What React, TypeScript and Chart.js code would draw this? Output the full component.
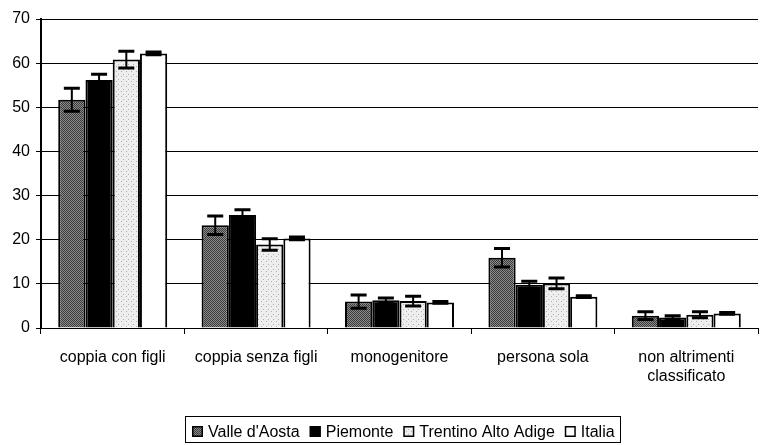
import React, { useEffect, useRef } from "react";
import { Chart, registerables } from "chart.js";

Chart.register(...registerables);

const categories: (string | string[])[] = [
  "coppia con figli",
  "coppia senza figli",
  "monogenitore",
  "persona sola",
  ["non altrimenti", "classificato"],
];

const seriesNames = ["Valle d'Aosta", "Piemonte", "Trentino Alto Adige", "Italia"];

const valleDAosta = [51.7, 23.3, 6.0, 15.9, 2.8];
const piemonte = [56.2, 25.6, 6.3, 9.8, 2.4];
const trentino = [60.8, 18.9, 6.1, 10.1, 3.0];
const italia = [62.2, 20.3, 5.8, 7.1, 3.3];

const errValle = [2.6, 2.1, 1.5, 2.1, 0.9];
const errPiemonte = [1.3, 1.2, 0.5, 0.8, 0.4];
const errTrentino = [1.9, 1.3, 1.1, 1.2, 0.7];
const errItalia = [0.3, 0.3, 0.2, 0.2, 0.2];

const yTicks = { min: 0, max: 70, step: 10 };

const FONT = "'Liberation Sans', Arial, sans-serif";

function makePattern(bg: string, dot: string, size: number, dots: [number, number][]) {
  const c = document.createElement("canvas");
  c.width = size;
  c.height = size;
  const g = c.getContext("2d")!;
  g.fillStyle = bg;
  g.fillRect(0, 0, size, size);
  g.fillStyle = dot;
  dots.forEach(([x, y]) => g.fillRect(x, y, 1, 1));
  const ctx = document.createElement("canvas").getContext("2d")!;
  return ctx.createPattern(c, "repeat")!;
}

const errorBarPlugin = {
  id: "errorBars",
  afterDatasetsDraw(chart: any) {
    const ctx = chart.ctx;
    const yScale = chart.scales.y;
    chart.data.datasets.forEach((ds: any, di: number) => {
      const meta = chart.getDatasetMeta(di);
      if (meta.hidden) return;
      meta.data.forEach((el: any, i: number) => {
        const v = ds.data[i];
        const e = ds.errors[i];
        const x = el.x;
        const yt = yScale.getPixelForValue(v + e);
        const yb = yScale.getPixelForValue(v - e);
        ctx.save();
        ctx.strokeStyle = "#000";
        ctx.lineWidth = 2;
        ctx.beginPath();
        ctx.moveTo(x, yt);
        ctx.lineTo(x, yb);
        ctx.stroke();
        ctx.lineWidth = 3;
        ctx.beginPath();
        ctx.moveTo(x - 8, yt);
        ctx.lineTo(x + 8, yt);
        ctx.moveTo(x - 8, yb);
        ctx.lineTo(x + 8, yb);
        ctx.stroke();
        ctx.restore();
      });
    });
  },
};

// Custom legend drawn under the x axis labels, with a border box
const customLegendPlugin = {
  id: "customLegend",
  afterDraw(chart: any) {
    const ctx = chart.ctx;
    const ca = chart.chartArea;
    const box = 11;
    const gapText = 5;
    const gapItem = 10;
    const baseline = 437;
    ctx.save();
    ctx.font = `16px ${FONT}`;
    ctx.textBaseline = "alphabetic";
    ctx.textAlign = "left";
    const items = chart.data.datasets.map((ds: any) => ({
      label: ds.label,
      fill: ds.backgroundColor,
      w: ctx.measureText(ds.label).width,
    }));
    const total =
      items.reduce((s: number, it: any) => s + box + gapText + it.w, 0) + gapItem * (items.length - 1);
    let x = Math.round((ca.left + ca.right) / 2 + 4 - total / 2);
    const startX = x;
    items.forEach((it: any) => {
      const by = baseline - box;
      ctx.fillStyle = it.fill;
      ctx.fillRect(x, by, box, box);
      ctx.strokeStyle = "#000";
      ctx.lineWidth = 1.5;
      ctx.strokeRect(x + 0.75, by + 0.75, box - 1.5, box - 1.5);
      ctx.fillStyle = "#000";
      ctx.fillText(it.label, x + box + gapText, baseline);
      x += box + gapText + it.w + gapItem;
    });
    const endX = x - gapItem;
    ctx.strokeStyle = "#000";
    ctx.lineWidth = 1;
    ctx.strokeRect(startX - 6.5, 416.5, Math.round(endX - startX + 12), 26);
    ctx.restore();
  },
};

export default function App() {
  const ref = useRef<HTMLCanvasElement | null>(null);

  useEffect(() => {
    if (!ref.current) return;
    const valleFill = makePattern("#8c8c8c", "#3a3a3a", 2, [[0, 0], [1, 1]]);
    const trentinoFill = makePattern("#eeeeee", "#b0b0b0", 5, [[1, 1], [3, 4]]);
    const fills = [valleFill, "#000000", trentinoFill, "#ffffff"];
    const values = [valleDAosta, piemonte, trentino, italia];
    const errs = [errValle, errPiemonte, errTrentino, errItalia];

    const chart = new Chart(ref.current, {
      type: "bar",
      data: {
        labels: categories,
        datasets: seriesNames.map((name, i) => ({
          label: name,
          data: values[i],
          errors: errs[i],
          backgroundColor: fills[i],
          borderColor: "#000",
          borderWidth: 2,
          categoryPercentage: 0.76,
          barPercentage: 1.0,
        })) as any,
      },
      options: {
        animation: false,
        responsive: false,
        maintainAspectRatio: false,
        layout: { padding: { top: 19, right: 2, left: 0, bottom: 37 } },
        plugins: {
          tooltip: { enabled: false },
          legend: { display: false },
        },
        scales: {
          x: {
            grid: {
              display: true,
              drawOnChartArea: false,
              color: "#000",
              tickLength: 6,
              offset: true,
            },
            border: { display: true, color: "#000", width: 1 },
            ticks: {
              color: "#000",
              padding: 14,
              maxRotation: 0,
              autoSkip: false,
              font: { family: FONT, size: 16, lineHeight: 1.2 },
            },
            afterFit: (s: any) => {
              s.height = 80;
            },
          },
          y: {
            min: yTicks.min,
            max: yTicks.max,
            grid: { color: "#000", lineWidth: 1, tickLength: 5 },
            border: { display: true, color: "#000", width: 2 },
            ticks: {
              stepSize: yTicks.step,
              color: "#000",
              padding: 6,
              font: { family: FONT, size: 16 },
            },
            afterFit: (s: any) => {
              s.width = 41;
            },
          },
        },
      },
      plugins: [errorBarPlugin, customLegendPlugin],
    });
    return () => chart.destroy();
  }, []);

  return (
    <div style={{ position: "fixed", left: 0, top: 0, width: 760, height: 445, background: "#fff" }}>
      <canvas ref={ref} width={760} height={445} style={{ display: "block" }} />
    </div>
  );
}
